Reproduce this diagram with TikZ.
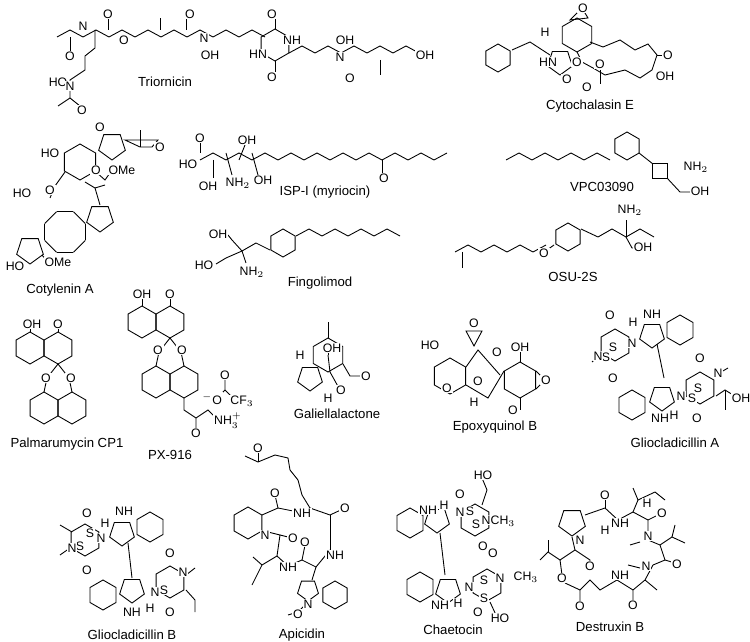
\documentclass[tikz,border=0pt]{standalone}
\usepackage{fontspec}
\setmainfont{Liberation Sans}
\usetikzlibrary{positioning}
\newcommand\hexring[3]{\draw (#1,#2) +(30:#3) -- +(90:#3) -- +(150:#3) -- +(210:#3) -- +(270:#3) -- +(330:#3) -- cycle;}
\newcommand\pentring[3]{\draw (#1,#2) +(90:#3) -- +(162:#3) -- +(234:#3) -- +(306:#3) -- +(18:#3) -- cycle;}
\newcommand\sqring[3]{\draw (#1,#2) +(45:#3) -- +(135:#3) -- +(225:#3) -- +(315:#3) -- cycle;}
\newcommand\zigzag[4]{\draw (#1,#2) \foreach \i in {1,...,#3}{ -- ++(#4,{7*cos(180*\i)}) };}
\tikzset{
  cpd/.style={font=\fontsize{7.5}{8}\selectfont,inner sep=1pt},
  atom/.style={font=\fontsize{7}{7}\selectfont,inner sep=0.5pt,fill=white}
}
\begin{document}
\begin{tikzpicture}[x=0.2mm,y=-0.2mm,line width=0.5pt]
\useasboundingbox (0,0) rectangle (750,642);

% Triornicin
\zigzag{57}{37}{16}{13}
\hexring{275}{45}{16}
\zigzag{289}{53}{10}{13}
\draw (95,30) -- (95,48) -- (85,56) -- (85,70) -- (70,80) -- (70,98) -- (58,106);
\draw (70,98) -- (80,106);
\draw (70,37) -- (70,52);
\draw (108,30) -- (108,16);
\draw (186,30) -- (186,16);
\draw (160,30) -- (160,18);
\draw (275,29) -- (275,18); \draw (275,61) -- (275,72);
\draw (380,60) -- (380,75);
\node[atom] (tr1) at (83,26) {N};
\node[atom] (tr2) at (70,56) {O};
\node[atom] (tr3) at (108,14) {O};
\node[atom] (tr4) at (124,40) {O};
\node[atom] (tr5) at (190,14) {O};
\node[atom] (tr6) at (204,38) {N};
\node[atom] (tr7) at (210,55) {OH};
\node[atom] (tr8) at (272,14) {O};
\node[atom] (tr9) at (292,40) {NH};
\node[atom] (tr10) at (258,54) {HN};
\node[atom] (tr11) at (272,77) {O};
\node[atom] (tr12) at (340,57) {N};
\node[atom] (tr13) at (345,40) {OH};
\node[atom] (tr14) at (350,78) {O};
\node[atom] (tr15) at (425,55) {OH};
\node[atom] (tr16) at (58,82) {HO};
\node[atom] (tr17) at (70,86) {N};
\node[atom] (tr18) at (82,110) {O};
\node[cpd] (triornicin) at (165,82) {Triornicin};

% Cytochalasin E
\hexring{498}{58}{14}
\hexring{577}{35}{17}
\pentring{560}{62}{13}
\draw (512,50) -- (530,42) -- (550,55);
\draw (590,42) -- (603,47) -- (620,40) -- (635,50) -- (648,44) -- (657,55) -- (652,70) -- (640,78) -- (625,70) -- (605,75) -- (593,68) -- (582,62) -- (577,52);
\draw (570,20) -- (588,18) -- (582,8) -- cycle;
\draw (657,55) -- (667,55);
\draw (600,70) -- (600,84);
\node[atom] (ce1) at (548,62) {HN};
\node[atom] (ce2) at (567,79) {O};
\node[atom] (ce3) at (577,62) {O};
\node[atom] (ce4) at (587,87) {O};
\node[atom] (ce5) at (600,64) {O};
\node[atom] (ce6) at (665,76) {OH};
\node[atom] (ce7) at (668,55) {O};
\node[atom] (ce8) at (583,8) {O};
\node[atom] (ce9) at (545,32) {H};
\node[cpd] (cytoE) at (590,106) {Cytochalasin E};

% Cotylenin A
\hexring{80}{162}{18}
\pentring{112}{146}{14}
\draw (125,140) -- (140,147) -- (152,147) -- (158,140) -- cycle;
\draw (140,147) -- (140,130);
\draw (96,172) -- (105,180) -- (112,170);
\draw (65,172) -- (55,186) -- (50,198);
\foreach \k in {0,...,7}{\draw ({65+22*cos(22.5+45*\k)},{232+22*sin(22.5+45*\k)}) -- ({65+22*cos(67.5+45*\k)},{232+22*sin(67.5+45*\k)});}
\pentring{30}{250}{14}
\pentring{100}{218}{14}
\draw (100,205) -- (95,188) -- (85,182);
\draw (95,188) -- (105,185);
\draw (42,255) -- (48,262);
\node[atom] (co1) at (100,127) {O};
\node[atom] (co2) at (50,153) {HO};
\node[atom] (co3) at (96,170) {O};
\node[atom] (co4) at (122,170) {OMe};
\node[atom] (co5) at (160,147) {O};
\node[atom] (co6) at (50,190) {O};
\node[atom] (co7) at (22,193) {HO};
\node[atom] (co8) at (15,266) {HO};
\node[atom] (co9) at (58,262) {OMe};
\node[cpd] (cotyl) at (60,290) {Cotylenin A};

% ISP-I (myriocin)
\zigzag{200}{160}{19}{13}
\draw (200,153) -- (200,140);
\draw (213,160) -- (213,178);
\draw (226,153) -- (232,175);
\draw (239,160) -- (245,145);
\draw (252,153) -- (258,175);
\draw (382,160) -- (382,175);
\node[atom] (my1) at (188,164) {HO};
\node[atom] (my2) at (200,138) {O};
\node[atom] (my3) at (208,186) {OH};
\node[atom] (my4) at (238,183) {NH$_2$};
\node[atom] (my5) at (247,140) {OH};
\node[atom] (my6) at (263,180) {OH};
\node[atom] (my7) at (384,178) {O};
\node[cpd] (myrio) at (325,192) {ISP-I (myriocin)};

% VPC03090
\zigzag{506}{160}{8}{13}
\hexring{627}{146}{14}
\sqring{660}{171}{10}
\draw (639,153) -- (653,164);
\draw (667,178) -- (680,192) -- (690,192);
\node[atom] (vp1) at (696,167) {NH$_2$};
\node[atom] (vp2) at (700,191) {OH};
\node[cpd] (vpc) at (602,187) {VPC03090};

% Fingolimod
\hexring{283}{243}{14}
\zigzag{296}{236}{8}{13}
\draw (270,250) -- (256,243) -- (242,251);
\draw (242,251) -- (232,240) -- (228,235);
\draw (242,251) -- (226,258) -- (216,264);
\draw (242,251) -- (246,263);
\node[atom] (fi1) at (218,234) {OH};
\node[atom] (fi2) at (204,265) {HO};
\node[atom] (fi3) at (252,272) {NH$_2$};
\node[cpd] (fingo) at (320,283) {Fingolimod};

% OSU-2S
\zigzag{455}{252}{7}{13}
\draw (462,252) -- (462,268);
\hexring{568}{237}{14}
\draw (547,250) -- (554,245);
\draw (581,229) -- (598,237) -- (612,229) -- (626,237) -- (640,229) -- (654,237);
\draw (626,237) -- (626,220);
\draw (626,237) -- (632,248) -- (636,248);
\node[atom] (os1) at (544,253) {O};
\node[atom] (os2) at (630,210) {NH$_2$};
\node[atom] (os3) at (643,247) {OH};
\node[cpd] (osu) at (573,277) {OSU-2S};

% Palmarumycin CP1
\hexring{30}{348}{16}
\hexring{58}{348}{16}
\draw (30,332) -- (30,326); \draw (58,332) -- (58,326);
\hexring{44}{408}{16}
\hexring{72}{408}{16}
\draw (58,364) -- (47,378) -- (44,392); \draw (58,364) -- (69,378) -- (72,392);
\node[atom] (pa1) at (32,324) {OH};
\node[atom] (pa2) at (58,324) {O};
\node[atom] (pa3) at (46,378) {O};
\node[atom] (pa4) at (71,378) {O};
\node[cpd] (palma) at (67,444) {Palmarumycin CP1};

% PX-916
\hexring{142}{322}{16}
\hexring{170}{322}{16}
\draw (142,306) -- (142,298); \draw (170,306) -- (170,298);
\hexring{156}{382}{16}
\hexring{184}{382}{16}
\draw (170,338) -- (159,352) -- (156,366); \draw (170,338) -- (181,352) -- (184,366);
\draw (184,398) -- (184,410) -- (196,418) -- (196,428);
\draw (196,418) -- (208,410) -- (216,418);
\draw (218,397) -- (225,390) -- (225,380); \draw (225,390) -- (232,397);
\node[atom] (px1) at (142,294) {OH};
\node[atom] (px2) at (170,294) {O};
\node[atom] (px3) at (158,350) {O};
\node[atom] (px4) at (182,350) {O};
\node[atom] (px5) at (196,433) {O};
\node[atom] (px6) at (228,421) {NH$_3^+$};
\node[atom] (px7) at (212,399) {$^{-}$O};
\node[atom] (px8) at (225,375) {O};
\node[atom] (px9) at (242,401) {CF$_3$};
\node[cpd] (px916) at (170,455) {PX-916};

% Galiellalactone
\hexring{328}{355}{17}
\pentring{310}{378}{13}
\draw (328,355) -- (328,343);
\draw (343,364) -- (350,376) -- (362,376);
\draw (328,355) -- (330,372) -- (340,390);
\draw (328,338) -- (328,322);
\node[atom] (ga1) at (300,355) {H};
\node[atom] (ga2) at (332,348) {OH};
\node[atom] (ga3) at (366,376) {O};
\node[atom] (ga4) at (341,390) {O};
\node[atom] (ga5) at (328,398) {H};
\node[cpd] (galie) at (337,414) {Galiellalactone};

% Epoxyquinol B
\hexring{450}{376}{18}
\hexring{520}{380}{18}
\draw (466,367) -- (478,350) -- (500,375);
\draw (466,385) -- (488,398) -- (504,371);
\draw (466,331) -- (474,346) -- (482,331) -- cycle;
\draw (536,371) -- (545,380) -- (536,389);
\draw (520,362) -- (520,350);
\draw (520,398) -- (520,410);
\node[atom] (ep1) at (430,345) {HO};
\node[atom] (ep2) at (520,347) {OH};
\node[atom] (ep3) at (474,323) {O};
\node[atom] (ep4) at (497,352) {O};
\node[atom] (ep5) at (546,380) {O};
\node[atom] (ep6) at (513,410) {O};
\node[atom] (ep7) at (447,388) {O};
\node[atom] (ep8) at (478,381) {O};
\node[atom] (ep9) at (474,402) {H};
\node[cpd] (epoxy) at (495,427) {Epoxyquinol B};

% Gliocladicillin A
\hexring{680}{330}{15}
\pentring{652}{335}{13}
\hexring{615}{345}{16}
\draw (657,344) -- (664,378);
\hexring{632}{405}{15}
\pentring{662}{398}{13}
\hexring{700}{388}{16}
\draw (716,396) -- (725,390) -- (738,398); \draw (725,390) -- (725,410);
\draw (600,355) -- (592,362);
\draw (716,375) -- (728,368);
\node[atom] (gA1) at (610,315) {O};
\node[atom] (gA2) at (633,322) {H};
\node[atom] (gA3) at (652,314) {NH};
\node[atom] (gA4) at (632,343) {N};
\node[atom] (gA5) at (613,347) {S};
\node[atom] (gA6) at (606,357) {S};
\node[atom] (gA7) at (598,356) {N};
\node[atom] (gA8) at (613,378) {O};
\node[atom] (gA9) at (700,358) {O};
\node[atom] (gA10) at (718,373) {N};
\node[atom] (gA11) at (681,396) {N};
\node[atom] (gA12) at (692,398) {S};
\node[atom] (gA13) at (698,388) {S};
\node[atom] (gA14) at (697,418) {O};
\node[atom] (gA15) at (741,398) {OH};
\node[atom] (gA16) at (660,418) {NH};
\node[atom] (gA17) at (674,415) {H};
\node[cpd] (glioA) at (675,443) {Gliocladicillin A};

% Gliocladicillin B
\hexring{150}{527}{15}
\pentring{122}{533}{13}
\hexring{85}{540}{16}
\draw (128,543) -- (132,578);
\hexring{103}{595}{15}
\pentring{132}{590}{13}
\hexring{170}{582}{16}
\draw (186,590) -- (195,600) -- (195,612);
\draw (70,548) -- (60,555); \draw (72,532) -- (60,525);
\draw (186,575) -- (195,568);
\node[atom] (gB1) at (87,513) {O};
\node[atom] (gB2) at (105,523) {H};
\node[atom] (gB3) at (124,511) {NH};
\node[atom] (gB4) at (101,538) {N};
\node[atom] (gB5) at (90,533) {S};
\node[atom] (gB6) at (80,546) {S};
\node[atom] (gB7) at (72,548) {N};
\node[atom] (gB8) at (87,570) {O};
\node[atom] (gB9) at (170,553) {O};
\node[atom] (gB10) at (183,572) {N};
\node[atom] (gB11) at (155,592) {N};
\node[atom] (gB12) at (164,590) {S};
\node[atom] (gB13) at (170,612) {O};
\node[atom] (gB14) at (132,612) {NH};
\node[atom] (gB15) at (150,608) {H};
\node[cpd] (glioB) at (132,635) {Gliocladicillin B};

% Apicidin
\hexring{248}{523}{16}
\draw (262,515) -- (278,508) -- (275,495);
\draw (278,508) -- (298,512) -- (310,508) -- (330,515) -- (345,508);
\draw (330,515) -- (330,550);
\draw (310,508) -- (302,495) -- (298,480) -- (290,470) -- (288,458) -- (275,455) -- (258,462) -- (245,456);
\draw (258,462) -- (258,450);
\draw (264,531) -- (280,535) -- (277,556) -- (288,566);
\draw (280,535) -- (292,538);
\draw (277,556) -- (262,565) -- (252,585);
\draw (262,565) -- (253,557);
\draw (288,566) -- (302,560) -- (305,545);
\draw (302,560) -- (316,567) -- (330,550);
\pentring{308}{590}{11}
\hexring{335}{595}{14}
\draw (316,567) -- (312,580);
\draw (308,602) -- (298,612) -- (288,615);
\node[atom] (ap1) at (258,448) {O};
\node[atom] (ap2) at (275,493) {O};
\node[atom] (ap3) at (302,513) {NH};
\node[atom] (ap4) at (345,508) {O};
\node[atom] (ap5) at (265,535) {N};
\node[atom] (ap6) at (293,538) {O};
\node[atom] (ap7) at (305,542) {O};
\node[atom] (ap8) at (288,567) {NH};
\node[atom] (ap9) at (335,555) {NH};
\node[atom] (ap10) at (308,604) {N};
\node[atom] (ap11) at (298,614) {O};
\node[cpd] (apic) at (302,635) {Apicidin};

% Chaetocin
\hexring{410}{523}{15}
\pentring{437}{520}{13}
\hexring{475}{520}{16}
\draw (440,533) -- (445,575);
\draw (482,505) -- (487,490) -- (482,478);
\hexring{420}{587}{15}
\pentring{448}{590}{13}
\hexring{487}{585}{16}
\draw (490,602) -- (496,615);
\node[atom] (ch1) at (428,510) {NH};
\node[atom] (ch2) at (444,505) {H};
\node[atom] (ch3) at (460,512) {N};
\node[atom] (ch4) at (470,511) {S};
\node[atom] (ch5) at (476,524) {S};
\node[atom] (ch6) at (486,520) {N};
\node[atom] (ch7) at (503,521) {CH$_3$};
\node[atom] (ch8) at (460,494) {O};
\node[atom] (ch9) at (483,546) {O};
\node[atom] (ch10) at (483,475) {HO};
\node[atom] (ch11) at (493,553) {O};
\node[atom] (ch12) at (469,587) {N};
\node[atom] (ch13) at (484,580) {S};
\node[atom] (ch14) at (484,598) {S};
\node[atom] (ch15) at (500,578) {N};
\node[atom] (ch16) at (526,577) {CH$_3$};
\node[atom] (ch17) at (478,612) {O};
\node[atom] (ch18) at (440,605) {NH};
\node[atom] (ch19) at (458,603) {H};
\node[atom] (ch20) at (500,618) {HO};
\node[cpd] (chaet) at (453,630) {Chaetocin};

% Destruxin B
\pentring{572}{522}{14}
\draw (585,515) -- (605,508) -- (618,520);
\draw (605,508) -- (605,497);
\draw (618,520) -- (633,512) -- (648,520) -- (648,532);
\draw (633,512) -- (638,500) -- (633,488); \draw (638,500) -- (655,492) -- (665,500);
\draw (648,520) -- (660,514);
\draw (648,540) -- (660,545) -- (665,560) -- (675,563);
\draw (660,545) -- (672,537) -- (685,543); \draw (672,537) -- (675,525);
\draw (640,542) -- (630,545);
\draw (665,560) -- (653,565) -- (645,580) -- (633,590) -- (633,603);
\draw (640,568) -- (628,565);
\draw (645,580) -- (657,590);
\draw (633,590) -- (617,580) -- (600,590) -- (590,580) -- (580,590) -- (580,603);
\draw (580,590) -- (565,583);
\draw (572,537) -- (575,550) -- (590,560) -- (590,570);
\draw (575,550) -- (560,560) -- (562,575);
\draw (560,560) -- (548,552) -- (540,560); \draw (548,552) -- (548,540);
\node[atom] (de1) at (605,495) {O};
\node[atom] (de2) at (620,523) {NH};
\node[atom] (de3) at (605,530) {H};
\node[atom] (de4) at (647,503) {H};
\node[atom] (de5) at (662,513) {O};
\node[atom] (de6) at (648,536) {N};
\node[atom] (de7) at (677,564) {O};
\node[atom] (de8) at (646,566) {N};
\node[atom] (de9) at (620,575) {NH};
\node[atom] (de10) at (633,605) {O};
\node[atom] (de11) at (580,606) {O};
\node[atom] (de12) at (562,578) {O};
\node[atom] (de13) at (590,566) {O};
\node[atom] (de14) at (580,540) {N};
\node[cpd] (destr) at (610,627) {Destruxin B};
\end{tikzpicture}
\end{document}
